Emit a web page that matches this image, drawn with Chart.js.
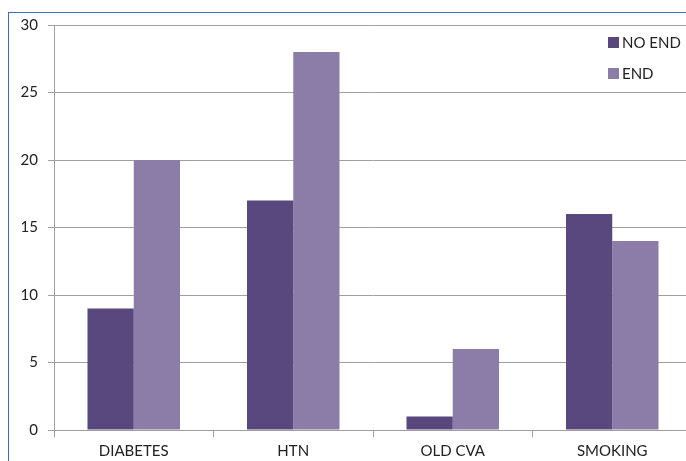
<!DOCTYPE html>
<html>
<head>
<meta charset="utf-8">
<script src="https://cdn.jsdelivr.net/npm/chart.js@4/dist/chart.umd.min.js"></script>
<style>
html,body{margin:0;padding:0;width:686px;height:461px;overflow:hidden;background:#fff;}
#wrap{position:absolute;left:0;top:0;width:692px;height:461px;}
#frame{position:absolute;left:8px;top:12px;width:800px;height:600px;border-left:1.5px solid #3d6cc0;border-top:1.5px solid #3d6cc0;pointer-events:none;}
</style>
</head>
<body>
<div id="wrap"><canvas id="c" width="692" height="461"></canvas></div>
<div id="frame"></div>
<script>
const categories = ["DIABETES", "HTN", "OLD CVA", "SMOKING"];
const noEnd = [9, 17, 1, 16];
const endVals = [20, 28, 6, 14];
const yTicks = [0, 5, 10, 15, 20, 25, 30];
const seriesNames = ["NO END", "END"];
const colors = ["#58487e", "#8b7ca8"];

const FONT = "Lato, 'Open Sans', sans-serif";

const legendPlugin = {
  id: 'customLegend',
  afterDraw(chart) {
    const ctx = chart.ctx;
    ctx.save();
    ctx.font = "15px " + FONT;
    ctx.textBaseline = 'middle';
    ctx.textAlign = 'left';
    const ys = [42, 73];
    chart.data.datasets.forEach((ds, i) => {
      ctx.fillStyle = ds.backgroundColor;
      ctx.fillRect(608, ys[i] - 5, 11, 11);
      ctx.fillStyle = '#222';
      ctx.fillText(ds.label, 622, ys[i] + 1);
    });
    ctx.restore();
  }
};

new Chart(document.getElementById('c'), {
  type: 'bar',
  data: {
    labels: categories,
    datasets: [
      { label: seriesNames[0], data: noEnd, backgroundColor: colors[0] },
      { label: seriesNames[1], data: endVals, backgroundColor: colors[1] }
    ]
  },
  options: {
    responsive: false,
    animation: false,
    devicePixelRatio: 1,
    layout: { padding: { top: 25, right: 0, bottom: 0, left: 0 } },
    plugins: { legend: { display: false }, tooltip: { enabled: false } },
    datasets: { bar: { categoryPercentage: 0.58, barPercentage: 1.0 } },
    scales: {
      x: {
        grid: { drawOnChartArea: false, offset: true, tickLength: 7, color: '#9e9e9e' },
        border: { color: '#9e9e9e', width: 1 },
        ticks: { color: '#222', font: { family: FONT, size: 15 }, padding: 5, maxRotation: 0 },
        afterFit(s) { s.height = 31; }
      },
      y: {
        min: 0, max: 30,
        afterBuildTicks(s) { s.ticks = yTicks.map(v => ({ value: v })); },
        grid: { color: '#a0a0a0', tickLength: 6, lineWidth: 1 },
        border: { color: '#a0a0a0', width: 1 },
        ticks: { color: '#222', font: { family: FONT, size: 15 }, padding: 10 },
        afterFit(s) { s.width = 54; }
      }
    }
  },
  plugins: [legendPlugin]
});
</script>
</body>
</html>
